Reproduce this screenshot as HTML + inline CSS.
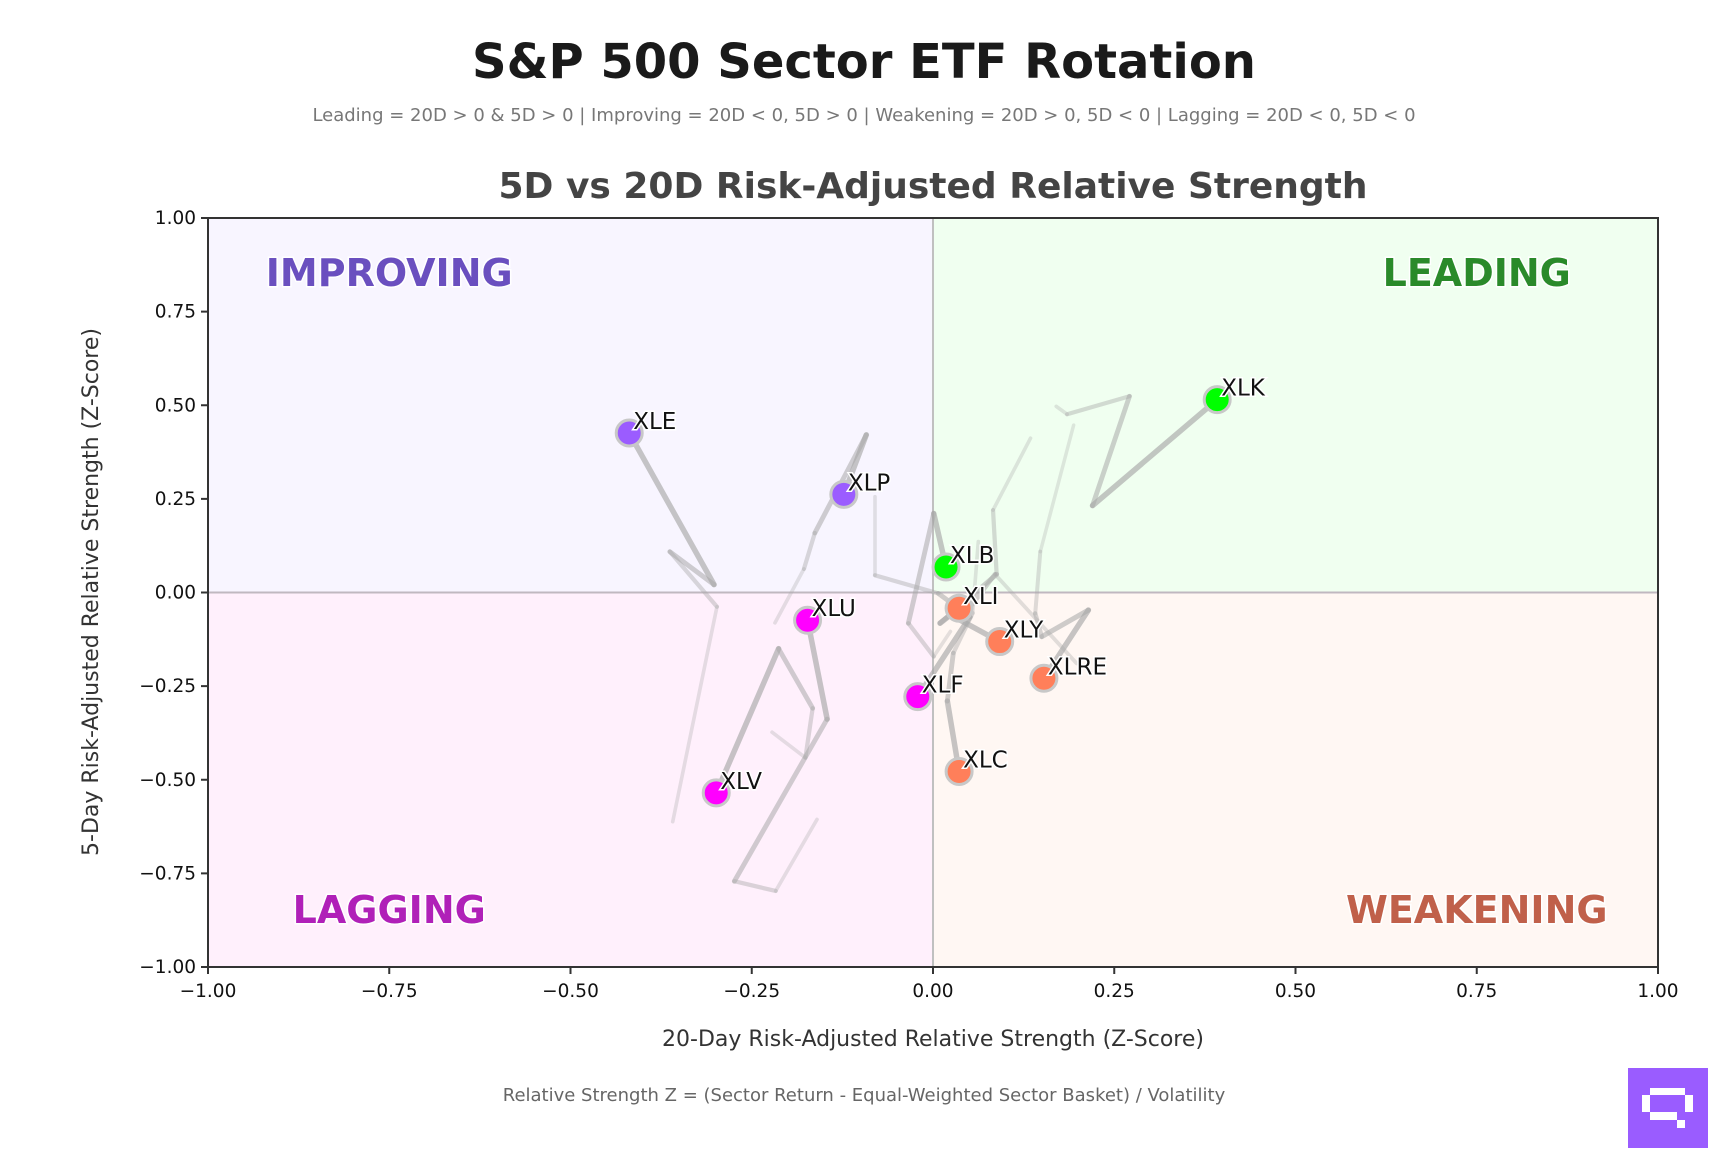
<!DOCTYPE html>
<html><head><meta charset="utf-8"><style>
body{margin:0;background:#fff;}
svg{display:block;font-family:"DejaVu Sans","Liberation Sans",sans-serif;}
</style></head><body>
<svg id="chart" width="1728" height="1152" viewBox="0 0 1728 1152" xmlns="http://www.w3.org/2000/svg">
<text x="864" y="78" text-anchor="middle" font-size="48" font-weight="bold" fill="#1a1a1a">S&amp;P 500 Sector ETF Rotation</text>
<text x="864" y="121" text-anchor="middle" font-size="18" fill="#777">Leading = 20D &gt; 0 &amp; 5D &gt; 0 | Improving = 20D &lt; 0, 5D &gt; 0 | Weakening = 20D &gt; 0, 5D &lt; 0 | Lagging = 20D &lt; 0, 5D &lt; 0</text>
<text x="933" y="198" text-anchor="middle" font-size="36" font-weight="bold" fill="#444">5D vs 20D Risk-Adjusted Relative Strength</text>
<g id="plot"></g>
<text x="933" y="1046" text-anchor="middle" font-size="22" fill="#333">20-Day Risk-Adjusted Relative Strength (Z-Score)</text>
<text transform="translate(98,592) rotate(-90)" text-anchor="middle" font-size="22" fill="#333">5-Day Risk-Adjusted Relative Strength (Z-Score)</text>
<text x="864" y="1101" text-anchor="middle" font-size="18" fill="#666">Relative Strength Z = (Sector Return - Equal-Weighted Sector Basket) / Volatility</text>
<g>
<rect x="1628" y="1068" width="80" height="80" fill="#9a5cff"/>
<rect x="1650" y="1088" width="35" height="7" fill="#fff"/>
<rect x="1642" y="1095" width="8" height="17" fill="#fff"/>
<rect x="1685" y="1095" width="8" height="17" fill="#fff"/>
<rect x="1650" y="1112" width="27" height="8" fill="#fff"/>
<rect x="1677" y="1120" width="8" height="8" fill="#fff"/>
</g>
</svg>
<script>
const tickValues = [-1, -0.75, -0.5, -0.25, 0, 0.25, 0.5, 0.75, 1];
const tickLabels = ["\u22121.00","\u22120.75","\u22120.50","\u22120.25","0.00","0.25","0.50","0.75","1.00"];
const tickers = ["XLK","XLE","XLP","XLB","XLI","XLY","XLRE","XLU","XLF","XLC","XLV"];
const currentX = [0.392,-0.419,-0.123,0.018,0.036,0.092,0.153,-0.173,-0.021,0.036,-0.299];
const currentY = [0.515,0.426,0.262,0.068,-0.042,-0.131,-0.229,-0.074,-0.278,-0.478,-0.535];
// trails: oldest first, current point appended automatically
const trailX = [
 [0.170,0.185,0.271,0.220],
 [-0.359,-0.298,-0.363,-0.302],
 [-0.218,-0.178,-0.163,-0.092],
 [0.024,0.001,-0.034,0.001],
 [0.1345,0.0828,0.0878,0.0097],
 [0.198,0.0855,0.0377],
 [0.194,0.148,0.141,0.150,0.2143],
 [-0.160,-0.217,-0.274,-0.146],
 [-0.080,-0.080,0.0074,0.051],
 [0.0625,0.0547,0.028,0.0198],
 [-0.222,-0.176,-0.166,-0.213]
];
const trailY = [
 [0.497,0.476,0.524,0.232],
 [-0.612,-0.038,0.109,0.021],
 [-0.081,0.063,0.159,0.421],
 [-0.104,-0.171,-0.082,0.211],
 [0.412,0.220,0.0487,-0.082],
 [-0.189,0.0487,-0.074],
 [0.447,0.109,-0.056,-0.118,-0.047],
 [-0.606,-0.797,-0.771,-0.338],
 [0.256,0.046,-0.0024,-0.065],
 [0.136,-0.055,-0.162,-0.29],
 [-0.373,-0.441,-0.309,-0.150]
];
const L=208,R=1658,T=218,B=967;
const sx=v=>L+(v+1)/2*(R-L);
const sy=v=>B-(v+1)/2*(B-T);
const NS="http://www.w3.org/2000/svg";
const g=document.getElementById('plot');
function mk(tag,attrs,parent){const e=document.createElementNS(NS,tag);for(const k in attrs)e.setAttribute(k,attrs[k]);(parent||g).appendChild(e);return e;}
function colorFor(x,y){if(x>=0&&y>=0)return"#00ff00";if(x<0&&y>=0)return"#9b5cff";if(x<0&&y<0)return"#ff00ff";return"#ff7f5a";}
const quads=[["quadrant-improving",-1,0,1,"#f8f5ff"],["quadrant-leading",0,1,1,"#f0fff0"],["quadrant-lagging",-1,0,0,"#fff0fc"],["quadrant-weakening",0,1,0,"#fff7f3"]];
quads.forEach(q=>{const r=mk('rect',{x:sx(q[1]),y:q[3]?sy(1):sy(0),width:sx(q[2])-sx(q[1]),height:sy(0)-sy(1),fill:q[4]});

});
const ql=[["IMPROVING",-0.75,0.85,"#6a4fbf"],["LEADING",0.75,0.85,"#2a8a2a"],["LAGGING",-0.75,-0.85,"#b020b8"],["WEAKENING",0.75,-0.85,"#c0604a"]];
ql.forEach(q=>{const t=mk('text',{x:sx(q[1]),y:sy(q[2])+12,'text-anchor':'middle','font-size':38,'font-weight':'bold',fill:q[3],stroke:'#fff','stroke-width':3,'paint-order':'stroke'});t.textContent=q[0];

});
const h=mk('line',{x1:L,x2:R,y1:sy(0),y2:sy(0),stroke:'#c0b8c0','stroke-width':2});


const v=mk('line',{x1:sx(0),x2:sx(0),y1:T,y2:B,stroke:'#c0c0c0','stroke-width':2});


tickers.forEach((tk,i)=>{
 const xs=trailX[i].concat([currentX[i]]),ys=trailY[i].concat([currentY[i]]);
 const n=xs.length-1;
 for(let j=0;j<n;j++){
  const f=(j+1)/n;
  const s=mk('line',{x1:sx(xs[j]),y1:sy(ys[j]),x2:sx(xs[j+1]),y2:sy(ys[j+1]),stroke:'#a8a8a8','stroke-opacity':0.2+0.45*f,'stroke-width':3+2.5*f,'stroke-linecap':'round'});
  
  
 }
});
tickers.forEach((tk,i)=>{
 const c=mk('circle',{cx:sx(currentX[i]),cy:sy(currentY[i]),r:13,fill:colorFor(currentX[i],currentY[i]),stroke:'#c8c8c8','stroke-width':3});
 
 
 const t=mk('text',{x:sx(currentX[i])+4,y:sy(currentY[i])-4,'font-size':23,fill:'#111',stroke:'#fff','stroke-width':3,'paint-order':'stroke'});
 t.textContent=tk;
 
 
});
const fr=mk('rect',{x:L,y:T,width:R-L,height:B-T,fill:'none',stroke:'#333','stroke-width':2});


tickValues.forEach((tv,k)=>{
 const tx=mk('line',{x1:sx(tv),x2:sx(tv),y1:B,y2:B+7,stroke:'#333','stroke-width':2});
 
 
 const lx=mk('text',{x:sx(tv),y:B+30,'text-anchor':'middle','font-size':18.5,fill:'#111'});
 lx.textContent=tickLabels[k];
 
 
 const ty=mk('line',{x1:L-7,x2:L,y1:sy(tv),y2:sy(tv),stroke:'#333','stroke-width':2});
 
 
 const ly=mk('text',{x:L-12,y:sy(tv)+6,'text-anchor':'end','font-size':18.5,fill:'#111'});
 ly.textContent=tickLabels[k];
 
 
});
</script>
</body></html>
